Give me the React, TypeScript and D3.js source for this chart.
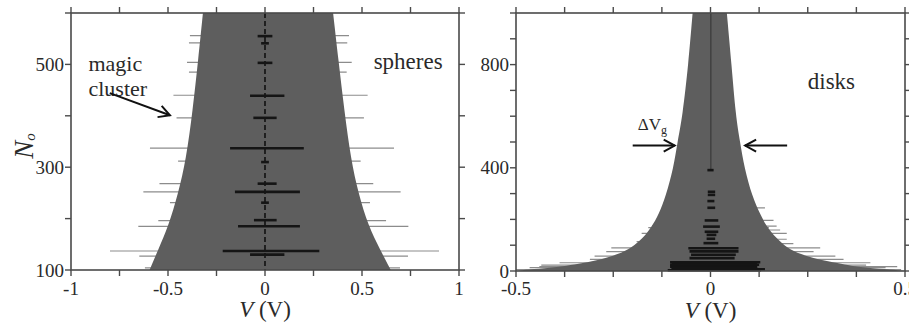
import React from "react";
import * as d3 from "d3";

const W = 909;
const H = 324;
const FONT = "'Liberation Serif', 'Times New Roman', serif";

// ---- spheres panel ----
const sphBandN = [100, 140, 185, 250, 315, 410, 510, 600];
const sphBandLo = [-0.595, -0.55, -0.498, -0.447, -0.407, -0.373, -0.344, -0.32];
const sphBandHi = [0.648, 0.593, 0.533, 0.481, 0.443, 0.409, 0.378, 0.351];

const sphLineN = [556, 542, 504, 485, 440, 396, 337, 312, 268, 252, 231, 196, 185, 137, 127, 104];
const sphLineLo = [-0.387, -0.392, -0.402, -0.392, -0.472, -0.456, -0.593, -0.448, -0.544, -0.627, -0.49, -0.55, -0.653, -0.799, -0.648, -0.619];
const sphLineHi = [0.433, 0.424, 0.447, 0.421, 0.529, 0.51, 0.665, 0.493, 0.558, 0.699, 0.541, 0.624, 0.739, 0.897, 0.737, 0.696];

const sphBarN = [555, 541, 503, 439, 396, 337, 310, 268, 252, 231, 197, 185, 137, 130];
const sphBarLo = [-0.038, -0.02, -0.038, -0.077, -0.06, -0.18, -0.02, -0.038, -0.155, -0.02, -0.057, -0.139, -0.218, -0.077];
const sphBarHi = [0.038, 0.02, 0.038, 0.1, 0.06, 0.2, 0.02, 0.06, 0.18, 0.02, 0.06, 0.18, 0.28, 0.1];

const sphXTicks = [-1, -0.75, -0.5, -0.25, 0, 0.25, 0.5, 0.75, 1];
const sphXLabels = [-1, -0.5, 0, 0.5, 1];
const sphYTicks = [100, 200, 300, 400, 500, 600];
const sphYLabels = [100, 300, 500];

// ---- disks panel ----
const dskBandN = [0, 5, 12, 20, 30, 45, 65, 90, 130, 170, 220, 290, 400, 500, 600, 800, 1000];
const dskBandLo = [-0.5, -0.47, -0.41, -0.37, -0.33, -0.28, -0.238, -0.203, -0.172, -0.152, -0.133, -0.115, -0.095, -0.085, -0.072, -0.057, -0.046];
const dskBandHi = [0.5, 0.465, 0.4, 0.36, 0.33, 0.275, 0.232, 0.196, 0.168, 0.145, 0.128, 0.107, 0.087, 0.076, 0.065, 0.054, 0.042];

const dskLineN = [245, 196, 174, 168, 159, 146, 123, 114, 106, 90, 75, 58, 45, 32, 23, 17, 13, 5];
const dskLineLo = [-0.11, -0.14, -0.15, -0.16, -0.155, -0.177, -0.17, -0.19, -0.18, -0.255, -0.268, -0.298, -0.31, -0.388, -0.435, -0.44, -0.465, -0.5];
const dskLineHi = [0.14, 0.162, 0.17, 0.15, 0.179, 0.196, 0.196, 0.17, 0.213, 0.282, 0.265, 0.321, 0.342, 0.411, 0.4, 0.48, 0.45, 0.49];

const dskBarN = [391, 307, 295, 271, 245, 196, 172, 152, 140, 125, 108, 88, 76, 63, 50, 34, 28, 24, 17, 12, 7, 3];
const dskBarLo = [-0.008, -0.007, -0.007, -0.008, -0.008, -0.015, -0.019, -0.015, -0.01, -0.01, -0.018, -0.057, -0.054, -0.05, -0.054, -0.104, -0.1, -0.104, -0.104, -0.1, -0.1, -0.11];
const dskBarHi = [0.008, 0.012, 0.012, 0.01, 0.012, 0.02, 0.024, 0.02, 0.015, 0.012, 0.02, 0.072, 0.072, 0.065, 0.062, 0.128, 0.12, 0.125, 0.12, 0.12, 0.14, 0.13];

const dskXTicks = [-0.5, -0.375, -0.25, -0.125, 0, 0.125, 0.25, 0.375, 0.5];
const dskXLabels = [-0.5, 0, 0.5];
const dskYTicks = [0, 100, 200, 300, 400, 500, 600, 700, 800, 900, 1000];
const dskYLabels = [0, 400, 800];

const xS = d3.scaleLinear().domain([-1, 1]).range([71, 459]);
const yS = d3.scaleLinear().domain([100, 600]).range([270, 13]);
const xD = d3.scaleLinear().domain([-0.5, 0.5]).range([516, 905]);
const yD = d3.scaleLinear().domain([0, 1000]).range([271, 13]);

const BAND = "#5e5e5e";
const LINE = "#8c8c8c";
const AXIS = "#4a4a4a";
const TXT = "#2a2a2a";

const fmt = (v: number) => (v < 0 ? "-" + String(-v) : String(v));

function bandPath(N: number[], lo: number[], hi: number[], x: any, y: any) {
    const area = d3.area<number>()
        .y(i => y(N[i]))
        .x0(i => x(lo[i]))
        .x1(i => x(hi[i]))
        .curve(d3.curveBasis);
    return area(d3.range(N.length)) || "";
}

function Frame({x, y, xt, yt, xl, yl}: any) {
    const [x0, x1] = x.range();
    const [y0, y1] = y.range();
    const t = 6;
    return <g>
        <rect x={x0} y={y1} width={x1 - x0} height={y0 - y1} fill="none" stroke={AXIS} strokeWidth={1.6}/>
        {xt.map((v: number) => <g key={"x" + v}>
            <line x1={x(v)} x2={x(v)} y1={y0} y2={y0 + t} stroke={AXIS} strokeWidth={1.4}/>
            <line x1={x(v)} x2={x(v)} y1={y1} y2={y1 - t} stroke={AXIS} strokeWidth={1.4}/>
        </g>)}
        {yt.map((v: number) => <g key={"y" + v}>
            <line x1={x0} x2={x0 - t} y1={y(v)} y2={y(v)} stroke={AXIS} strokeWidth={1.4}/>
            <line x1={x1} x2={x1 + t} y1={y(v)} y2={y(v)} stroke={AXIS} strokeWidth={1.4}/>
        </g>)}
        {xl.map((v: number) => <text key={"xl" + v} x={x(v)} y={295} textAnchor="middle"
                                     fontSize={19} fontFamily={FONT} fill={TXT}>{fmt(v)}</text>)}
        {yl.map((v: number) => <text key={"yl" + v} x={x0 - t - 1} y={y(v)} dy="0.35em" textAnchor="end"
                                     fontSize={19} fontFamily={FONT} fill={TXT}>{v}</text>)}
    </g>;
}

function Arrow({x1, y1, x2, y2, head = 11, w = 6}: any) {
    const a = Math.atan2(y2 - y1, x2 - x1);
    const bx = x2 - head * Math.cos(a), by = y2 - head * Math.sin(a);
    const px = -Math.sin(a) * w, py = Math.cos(a) * w;
    return <g stroke="#111" strokeWidth={2} fill="none">
        <line x1={x1} y1={y1} x2={x2} y2={y2}/>
        <polyline points={`${bx + px},${by + py} ${x2},${y2} ${bx - px},${by - py}`}/>
    </g>;
}

export default function App() {
    return <svg width={W} height={H} style={{position: "absolute", left: 0, top: 0, background: "#fff"}}>
        {/* spheres */}
        <g>
            {sphLineN.map((n, i) => <line key={i} x1={xS(sphLineLo[i])} x2={xS(sphLineHi[i])} y1={yS(n)} y2={yS(n)}
                                          stroke={LINE} strokeWidth={1.2}/>)}
            <path d={bandPath(sphBandN, sphBandLo, sphBandHi, xS, yS)} fill={BAND}/>
            <line x1={xS(0)} x2={xS(0)} y1={yS(600)} y2={yS(100)} stroke="#111" strokeWidth={1.6}
                  strokeDasharray="5,3"/>
            {sphBarN.map((n, i) => <line key={i} x1={xS(sphBarLo[i])} x2={xS(sphBarHi[i])} y1={yS(n)} y2={yS(n)}
                                         stroke="#151515" strokeWidth={2.6}/>)}
            <Frame x={xS} y={yS} xt={sphXTicks} yt={sphYTicks} xl={sphXLabels} yl={sphYLabels}/>
            <text transform={`translate(33,146) rotate(-90)`} textAnchor="middle" fontFamily={FONT}
                  fontStyle="italic" fontSize={27} fill={TXT}>N<tspan fontSize={15} dy={2}>o</tspan></text>
            <text x={xS(0)} y={317} textAnchor="middle" fontFamily={FONT} fontSize={23} fill={TXT}>
                <tspan fontStyle="italic">V</tspan> (V)
            </text>
            <text x={xS(-0.91)} y={yS(487)} fontFamily={FONT} fontSize={22} fill={TXT}>magic</text>
            <text x={xS(-0.91)} y={yS(439)} fontFamily={FONT} fontSize={22} fill={TXT}>cluster</text>
            <Arrow x1={xS(-0.8)} y1={yS(444)} x2={xS(-0.49)} y2={yS(401)}/>
            <text x={xS(0.56)} y={yS(492)} fontFamily={FONT} fontSize={23} fill={TXT}>spheres</text>
        </g>
        {/* disks */}
        <g>
            {dskLineN.map((n, i) => <line key={i} x1={xD(dskLineLo[i])} x2={xD(dskLineHi[i])} y1={yD(n)} y2={yD(n)}
                                          stroke={LINE} strokeWidth={1.2}/>)}
            <path d={bandPath(dskBandN, dskBandLo, dskBandHi, xD, yD)} fill={BAND}/>
            <line x1={xD(0.001)} x2={xD(0.001)} y1={yD(1000)} y2={yD(395)} stroke="#333" strokeWidth={1}/>
            {dskBarN.map((n, i) => <line key={i} x1={xD(dskBarLo[i])} x2={xD(dskBarHi[i])} y1={yD(n)} y2={yD(n)}
                                         stroke="#151515" strokeWidth={2.6}/>)}
            <Frame x={xD} y={yD} xt={dskXTicks} yt={dskYTicks} xl={dskXLabels} yl={dskYLabels}/>
            <text x={xD(0)} y={318} textAnchor="middle" fontFamily={FONT} fontSize={23} fill={TXT}>
                <tspan fontStyle="italic">V</tspan> (V)
            </text>
            <text x={xD(0.25)} y={yD(705)} fontFamily={FONT} fontSize={23} fill={TXT}>disks</text>
            <text x={xD(-0.187)} y={yD(546)} fontFamily={FONT} fontSize={17} fill={TXT}>ΔV<tspan fontSize={12}
                                                                                                   dy={4}>g</tspan></text>
            <Arrow x1={xD(-0.2)} y1={yD(486)} x2={xD(-0.092)} y2={yD(486)}/>
            <Arrow x1={xD(0.197)} y1={yD(486)} x2={xD(0.089)} y2={yD(486)}/>
        </g>
    </svg>;
}
